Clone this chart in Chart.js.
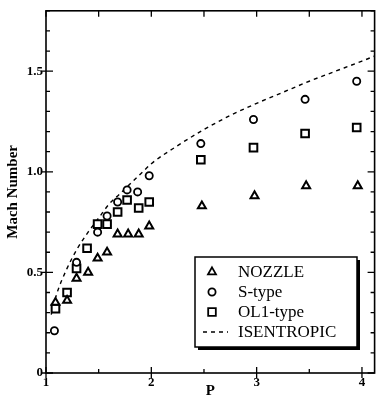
<!DOCTYPE html>
<html>
<head>
<meta charset="utf-8">
<script src="https://cdn.jsdelivr.net/npm/chart.js@4.4.1/dist/chart.umd.min.js"></script>
<style>
  html, body { margin: 0; padding: 0; background: #fff; }
  #wrap { width: 382px; height: 400px; }
</style>
</head>
<body>
<div id="wrap"><canvas id="chart"></canvas></div>
<script>
// pressure ratio P vs Mach number
const nozzleP = [1.09, 1.20, 1.29, 1.40, 1.49, 1.58, 1.68, 1.78, 1.88, 1.98, 2.48, 2.98, 3.47, 3.96];
const nozzleM = [0.35, 0.36, 0.47, 0.50, 0.57, 0.60, 0.69, 0.69, 0.69, 0.73, 0.83, 0.88, 0.93, 0.93];

const sTypeP = [1.08, 1.29, 1.49, 1.58, 1.68, 1.77, 1.87, 1.98, 2.47, 2.97, 3.46, 3.95];
const sTypeM = [0.21, 0.55, 0.70, 0.78, 0.85, 0.91, 0.90, 0.98, 1.14, 1.26, 1.36, 1.45];

const ol1P = [1.09, 1.20, 1.29, 1.39, 1.49, 1.58, 1.68, 1.77, 1.88, 1.98, 2.47, 2.97, 3.46, 3.95];
const ol1M = [0.32, 0.40, 0.52, 0.62, 0.74, 0.74, 0.80, 0.86, 0.82, 0.85, 1.06, 1.12, 1.19, 1.22];

const isenP = [1.05, 1.10, 1.20, 1.30, 1.40, 1.50, 1.60, 1.70, 1.80, 1.90, 2.00, 2.25, 2.50, 2.75, 3.00, 3.25, 3.50, 3.75, 4.00, 4.12];
const isenM = [0.29, 0.39, 0.52, 0.62, 0.70, 0.77, 0.84, 0.89, 0.94, 0.99, 1.04, 1.13, 1.21, 1.28, 1.34, 1.395, 1.45, 1.50, 1.55, 1.575];

const xTickValues = [1, 1.5, 2, 2.5, 3, 3.5, 4];
const legendLabels = ["NOZZLE", "S-type", "OL1-type", "ISENTROPIC"];

const SERIF = "'Liberation Serif', 'Times New Roman', serif";

function pts(xs, ys) {
  return xs.map((x, i) => ({ x: x, y: ys[i] }));
}

const marker = {
  backgroundColor: "#fff",
  borderColor: "#000",
  showLine: false,
};

// inward ticks, box frame and the boxed legend
const framePlugin = {
  id: "frame",
  afterDraw(chart) {
    const { ctx, chartArea: a } = chart;
    const xs = chart.scales.x;
    const ys = chart.scales.y;
    ctx.save();
    ctx.strokeStyle = "#000";
    ctx.lineWidth = 1.6;
    ctx.strokeRect(a.left, a.top, a.right - a.left, a.bottom - a.top);

    ctx.lineWidth = 1.3;
    ctx.beginPath();
    for (let i = 0; i <= 18; i++) {
      const py = ys.getPixelForValue(i / 10);
      const major = i % 5 === 0;
      ctx.moveTo(a.left - (major ? 5 : 0), py);
      ctx.lineTo(a.left + (major ? 7 : 4), py);
      ctx.moveTo(a.right, py);
      ctx.lineTo(a.right - (major ? 7 : 4), py);
    }
    xTickValues.forEach((v) => {
      const px = xs.getPixelForValue(v);
      const major = Number.isInteger(v);
      ctx.moveTo(px, a.bottom + (major ? 5 : 0));
      ctx.lineTo(px, a.bottom - (major ? 6 : 4));
      ctx.moveTo(px, a.top);
      ctx.lineTo(px, a.top + 6);
    });
    ctx.stroke();

    // legend box with drop shadow
    const bx = 195, by = 257, bw = 162, bh = 90;
    ctx.fillStyle = "#000";
    ctx.fillRect(bx + 3, by + 3, bw, bh);
    ctx.fillStyle = "#fff";
    ctx.fillRect(bx, by, bw, bh);
    ctx.lineWidth = 1.5;
    ctx.strokeRect(bx, by, bw, bh);

    const rowY = [272, 292, 312, 332];
    const styles = chart.data.datasets.map(d => d.pointStyle);
    const radii = chart.data.datasets.map(d => d.pointRadius);
    ctx.font = "17px " + SERIF;
    ctx.textBaseline = "middle";
    ctx.textAlign = "left";
    rowY.forEach((yy, i) => {
      ctx.strokeStyle = "#000";
      ctx.fillStyle = "#fff";
      if (i < 3) {
        ctx.lineWidth = 1.8;
        Chart.helpers.drawPoint(ctx, { pointStyle: styles[i], radius: radii[i], rotation: 0, borderWidth: 1.8 }, 212, yy);
      } else {
        ctx.lineWidth = 1.3;
        ctx.setLineDash([4, 4]);
        ctx.beginPath();
        ctx.moveTo(203, yy);
        ctx.lineTo(228, yy);
        ctx.stroke();
        ctx.setLineDash([]);
      }
      ctx.fillStyle = "#000";
      ctx.fillText(legendLabels[i], 238, yy + 1);
    });
    ctx.restore();
  },
};

const ctx = document.getElementById("chart").getContext("2d");
new Chart(ctx, {
  type: "scatter",
  data: {
    datasets: [
      {
        ...marker,
        label: legendLabels[0],
        data: pts(nozzleP, nozzleM),
        pointStyle: "triangle",
        pointRadius: 4.6,
        pointBorderWidth: 2,
      },
      {
        ...marker,
        label: legendLabels[1],
        data: pts(sTypeP, sTypeM),
        pointStyle: "circle",
        pointRadius: 3.6,
        pointBorderWidth: 1.8,
      },
      {
        ...marker,
        label: legendLabels[2],
        data: pts(ol1P, ol1M),
        pointStyle: "rect",
        pointRadius: 5.4,
        pointBorderWidth: 2,
      },
      {
        label: legendLabels[3],
        data: pts(isenP, isenM),
        showLine: true,
        pointRadius: 0,
        borderColor: "#000",
        borderWidth: 1.4,
        borderDash: [4, 4],
        cubicInterpolationMode: "monotone",
        pointStyle: false,
      },
    ],
  },
  options: {
    responsive: true,
    maintainAspectRatio: false,
    animation: false,
    layout: { padding: { top: 7, right: 5, left: 0, bottom: 0 } },
    plugins: {
      legend: { display: false },
      tooltip: { enabled: false },
    },
    scales: {
      x: {
        type: "linear",
        min: 1,
        max: 4.12,
        grid: { display: false, drawTicks: false },
        border: { display: false },
        afterBuildTicks: (s) => { s.ticks = xTickValues.map(v => ({ value: v })); },
        afterFit: (s) => { s.height = 27; },
        ticks: {
          autoSkip: false,
          maxRotation: 0,
          padding: 2,
          color: "#000",
          font: { family: SERIF, size: 13, weight: "bold" },
          callback: (v) => (Number.isInteger(v) ? String(v) : ""),
        },
        title: {
          display: true,
          text: "P",
          color: "#000",
          padding: { top: 0, bottom: 0 },
          font: { family: SERIF, size: 15, weight: "bold" },
        },
      },
      y: {
        type: "linear",
        min: 0,
        max: 1.8,
        grid: { display: false, drawTicks: false },
        border: { display: false },
        afterFit: (s) => { s.width = 46; },
        ticks: {
          stepSize: 0.1,
          autoSkip: false,
          padding: 3,
          color: "#000",
          font: { family: SERIF, size: 13, weight: "bold" },
          callback: (v) => {
            const r = Math.round(v * 10);
            if (r % 5 !== 0) return "";
            return r === 0 ? "0" : (r / 10).toFixed(1);
          },
        },
        title: {
          display: true,
          text: "Mach Number",
          color: "#000",
          padding: { top: 4, bottom: 0 },
          font: { family: SERIF, size: 15, weight: "bold" },
        },
      },
    },
  },
  plugins: [framePlugin],
});
</script>
</body>
</html>
